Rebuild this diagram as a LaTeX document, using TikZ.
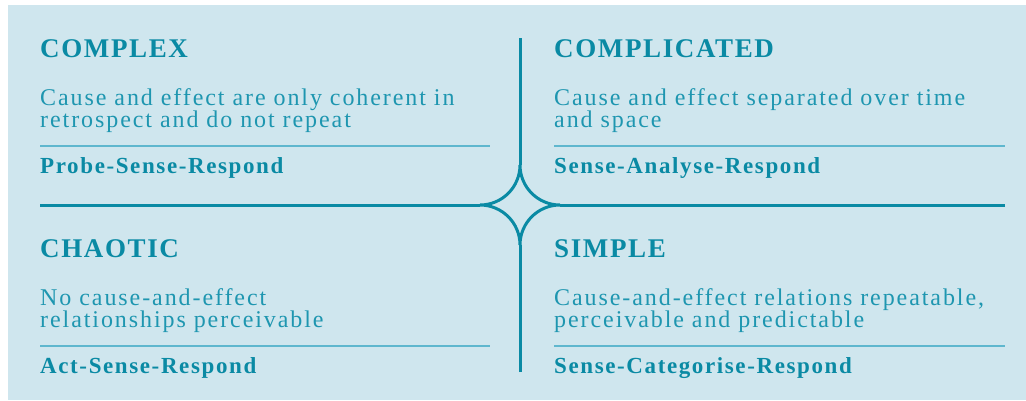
\documentclass[tikz,border=0pt]{standalone}
\usepackage{fontspec}
\setmainfont{Liberation Serif}
\newfontfamily\headfont[LetterSpace=6]{Liberation Serif}
\newfontfamily\bodyfont[LetterSpace=8]{Liberation Serif}
\newfontfamily\respfont[LetterSpace=7]{Liberation Serif}
\usepackage{xcolor}
\usepackage{tikz}
\usetikzlibrary{positioning}
\definecolor{tealdark}{RGB}{10,138,164}
\definecolor{tealmid}{RGB}{30,150,176}
\definecolor{teallight}{RGB}{95,183,206}
\definecolor{bgblue}{RGB}{207,230,238}

\begin{document}
\begin{tikzpicture}[x=1pt, y=-1pt,
  title/.style={anchor=base west, inner sep=0pt, text=tealdark, font=\headfont\bfseries\fontsize{27}{30}\selectfont},
  body/.style={anchor=base west, inner sep=0pt, align=left, text=tealmid, font=\bodyfont\fontsize{24}{22}\selectfont},
  resp/.style={anchor=base west, inner sep=0pt, text=tealdark, font=\respfont\bfseries\fontsize{23}{22}\selectfont},
  rule/.style={draw=teallight, line width=1.5pt},
  axis/.style={draw=tealdark, line width=3pt}]
  \useasboundingbox (0,0) rectangle (1026,400);
  \fill[bgblue] (8,5) rectangle (1026,400);

  % axes and the star in the middle
  \coordinate (N) at (520,38);
  \coordinate (S) at (520,372);
  \coordinate (W) at (40,205);
  \coordinate (E) at (1005,205);
  \draw[axis] (N) -- (520,165);
  \draw[axis] (S) -- (520,245);
  \draw[axis] (W) -- (480,205);
  \draw[axis] (E) -- (560,205);
  \draw[axis] (520,165) arc[start angle=0, end angle=90, radius=40]
    arc[start angle=270, end angle=360, radius=40]
    arc[start angle=180, end angle=270, radius=40]
    arc[start angle=90, end angle=180, radius=40] -- cycle;

  % top left (body nodes sit on their last line)
  \node[title] (CX) at (40,57) {COMPLEX};
  \node[body] (CXt) at (40,127) {Cause and effect are only coherent in\\retrospect and do not repeat};
  \draw[rule] (40,146) -- (490,146);
  \node[resp] (CXr) at (40,173) {Probe-Sense-Respond};

  % top right
  \node[title] (CD) at (554,57) {COMPLICATED};
  \node[body] (CDt) at (554,127) {Cause and effect separated over time\\and space};
  \draw[rule] (554,146) -- (1005,146);
  \node[resp] (CDr) at (554,173) {Sense-Analyse-Respond};

  % bottom left
  \node[title] (CH) at (40,257) {CHAOTIC};
  \node[body] (CHt) at (40,327) {No cause-and-effect\\relationships perceivable};
  \draw[rule] (40,346) -- (490,346);
  \node[resp] (CHr) at (40,373) {Act-Sense-Respond};

  % bottom right
  \node[title] (SI) at (554,257) {SIMPLE};
  \node[body] (SIt) at (554,327) {Cause-and-effect relations repeatable,\\perceivable and predictable};
  \draw[rule] (554,346) -- (1005,346);
  \node[resp] (SIr) at (554,373) {Sense-Categorise-Respond};
\end{tikzpicture}
\end{document}
